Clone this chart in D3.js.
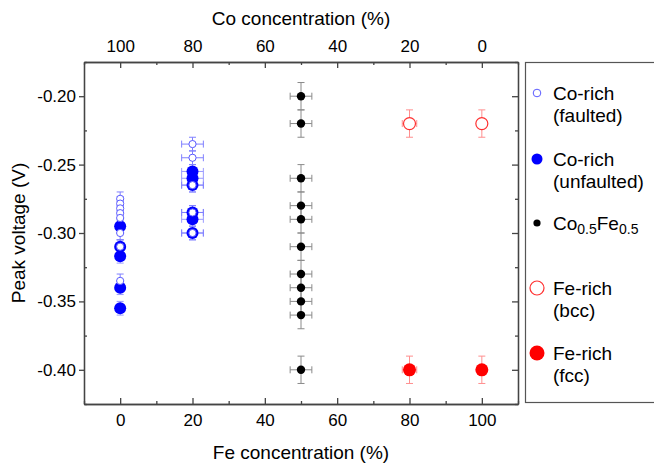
<!DOCTYPE html>
<html>
<head>
<meta charset="utf-8">
<script src="https://cdn.jsdelivr.net/npm/d3@7/dist/d3.min.js"></script>
<style>
body { margin: 0; background: #fff; }
text { font-family: "Liberation Sans", Arial, sans-serif; fill: #000; }
.axis path, .axis line { stroke: #444; stroke-width: 1.3px; }
</style>
</head>
<body>
<svg id="chart" width="654" height="468"></svg>
<script>
// peak voltage readings, [Fe %, V]
var coFaulted = [
	[0, -0.275], [0, -0.2785], [0, -0.282], [0, -0.2855], [0, -0.289],
	[0, -0.300], [0, -0.310], [0, -0.335],
	[20, -0.235], [20, -0.245], [20, -0.265], [20, -0.285], [20, -0.300]
];
var coUnfaulted = [
	[0, -0.295], [0, -0.310], [0, -0.317], [0, -0.340], [0, -0.355],
	[20, -0.255], [20, -0.260], [20, -0.265], [20, -0.285], [20, -0.290], [20, -0.300]
];
var coFe = [
	[50, -0.20], [50, -0.22], [50, -0.26], [50, -0.28], [50, -0.29], [50, -0.31],
	[50, -0.33], [50, -0.34], [50, -0.35], [50, -0.36], [50, -0.40]
];
var feBcc = [[80, -0.22], [100, -0.22]];
var feFcc = [[80, -0.40], [100, -0.40]];

// error bars, [x err, y err]; pure Co samples (0 % Fe) have no x error
var coFaultedErr = coFaulted.map(function(d) { return [d[0] == 0 ? 0 : 3, 0.005]; });
var coUnfaultedErr = coUnfaulted.map(function(d) { return [d[0] == 0 ? 0 : 3, 0.005]; });
var coFeErr = coFe.map(function() { return [3, 0.01]; });
var feBccErr = [[2, 0.01], [0, 0.01]];
var feFccErr = [[2, 0.01], [0, 0.01]];

var feTicks = [0, 20, 40, 60, 80, 100];
var coTicks = [100, 80, 60, 40, 20, 0];
var vTicks = [-0.40, -0.35, -0.30, -0.25, -0.20];

var svg = d3.select('#chart');
var plotLeft = 84, plotRight = 518, plotTop = 62, plotBottom = 404;

var x = d3.scaleLinear().domain([-10, 110]).range([plotLeft, plotRight]);
var xCo = d3.scaleLinear().domain([110, -10]).range([plotLeft, plotRight]);
var y = d3.scaleLinear().domain([-0.425, -0.175]).range([plotBottom, plotTop]);

var minorX = [-10, 10, 30, 50, 70, 90, 110];
var minorY = [-0.425, -0.375, -0.325, -0.275, -0.225, -0.175];

// axes
function addAxis(axis, tx, ty) {
	var g = svg.append('g').attr('class', 'axis')
		.attr('transform', 'translate(' + tx + ',' + ty + ')')
		.call(axis);
	g.selectAll('text').style('font-size', '17px').attr('fill', '#000');
	return g;
}

addAxis(d3.axisBottom(x).tickValues(feTicks).tickSize(-6).tickPadding(10).tickSizeOuter(0), 0, plotBottom);
addAxis(d3.axisBottom(x).tickValues(minorX).tickSize(-3).tickFormat('').tickSizeOuter(0), 0, plotBottom);
addAxis(d3.axisTop(xCo).tickValues(coTicks).tickSize(-6).tickPadding(10).tickSizeOuter(0), 0, plotTop);
addAxis(d3.axisTop(x).tickValues(minorX).tickSize(-3).tickFormat('').tickSizeOuter(0), 0, plotTop);
addAxis(d3.axisLeft(y).tickValues(vTicks).tickSize(5).tickPadding(3).tickSizeOuter(0)
	.tickFormat(function(d) { return d.toFixed(2); }), plotLeft, 0);
addAxis(d3.axisLeft(y).tickValues(minorY).tickSize(-3).tickFormat('').tickSizeOuter(0), plotLeft, 0);
addAxis(d3.axisRight(y).tickValues(vTicks).tickSize(-6).tickFormat('').tickSizeOuter(0), plotRight, 0);
addAxis(d3.axisRight(y).tickValues(minorY).tickSize(-3).tickFormat('').tickSizeOuter(0), plotRight, 0);

// axis titles
svg.append('text').attr('x', (x(0) + x(100)) / 2).attr('y', 459)
	.attr('text-anchor', 'middle').style('font-size', '19px').text('Fe concentration (%)');
svg.append('text').attr('x', (x(0) + x(100)) / 2).attr('y', 25)
	.attr('text-anchor', 'middle').style('font-size', '19px').text('Co concentration (%)');
svg.append('text').attr('transform', 'translate(25,' + ((plotTop + plotBottom) / 2) + ') rotate(-90)')
	.attr('text-anchor', 'middle').style('font-size', '19px').text('Peak voltage (V)');

// error bars
function drawErrors(data, errs, color) {
	var g = svg.append('g').attr('stroke', color).attr('stroke-width', 1).attr('fill', 'none');
	data.forEach(function(d, i) {
		var ex = errs[i][0], ey = errs[i][1];
		var cx = x(d[0]), cy = y(d[1]);
		var y0 = y(d[1] - ey), y1 = y(d[1] + ey);
		g.append('line').attr('x1', cx).attr('x2', cx).attr('y1', y0).attr('y2', y1);
		g.append('line').attr('x1', cx - 3.5).attr('x2', cx + 3.5).attr('y1', y0).attr('y2', y0);
		g.append('line').attr('x1', cx - 3.5).attr('x2', cx + 3.5).attr('y1', y1).attr('y2', y1);
		if (ex > 0) {
			var x0 = x(d[0] - ex), x1 = x(d[0] + ex);
			g.append('line').attr('x1', x0).attr('x2', x1).attr('y1', cy).attr('y2', cy);
			g.append('line').attr('x1', x0).attr('x2', x0).attr('y1', cy - 3.5).attr('y2', cy + 3.5);
			g.append('line').attr('x1', x1).attr('x2', x1).attr('y1', cy - 3.5).attr('y2', cy + 3.5);
		}
	});
}

drawErrors(coFe, coFeErr, '#8a8a8a');
drawErrors(feBcc, feBccErr, '#ff8f8f');
drawErrors(feFcc, feFccErr, '#ff8f8f');
drawErrors(coUnfaulted, coUnfaultedErr, '#9a9aff');
drawErrors(coFaulted, coFaultedErr, '#8080ff');

// markers
function drawPoints(data, r, fill, stroke, sw) {
	svg.append('g').selectAll('circle')
		.data(data)
		.enter()
			.append('circle')
			.attr('cx', function(d) { return x(d[0]); })
			.attr('cy', function(d) { return y(d[1]); })
			.attr('r', r)
			.attr('fill', fill)
			.attr('stroke', stroke)
			.attr('stroke-width', sw);
}

drawPoints(coFe, 4.2, '#000', 'none', 0);
drawPoints(feBcc, 6, '#fff', '#ff3030', 1.2);
drawPoints(feFcc, 6.5, '#ff0000', 'none', 0);
drawPoints(coUnfaulted, 6, '#0000ff', 'none', 0);
drawPoints(coFaulted, 3.6, '#fff', '#5a5aff', 1);

// legend
svg.append('rect').attr('x', 525.5).attr('y', 62.5).attr('width', 140).attr('height', 340)
	.attr('fill', 'none').attr('stroke', '#555').attr('stroke-width', 1.2);

var legendItems = [
	{ cy: 93, r: 3.8, fill: '#fff', stroke: '#5a5aff', sw: 1, lines: ['Co-rich', '(faulted)'] },
	{ cy: 159, r: 5.5, fill: '#0000ff', stroke: 'none', sw: 0, lines: ['Co-rich', '(unfaulted)'] },
	{ cy: 223, r: 3.6, fill: '#000', stroke: 'none', sw: 0, lines: null },
	{ cy: 288, r: 7, fill: '#fff', stroke: '#ff3030', sw: 1.2, lines: ['Fe-rich', '(bcc)'] },
	{ cy: 353, r: 7.5, fill: '#ff0000', stroke: 'none', sw: 0, lines: ['Fe-rich', '(fcc)'] }
];

legendItems.forEach(function(it) {
	svg.append('circle').attr('cx', 537).attr('cy', it.cy).attr('r', it.r)
		.attr('fill', it.fill).attr('stroke', it.stroke).attr('stroke-width', it.sw);
	if (it.lines) {
		svg.append('text').attr('x', 553).attr('y', it.cy + 6.5).style('font-size', '19px').text(it.lines[0]);
		svg.append('text').attr('x', 553).attr('y', it.cy + 29).style('font-size', '19px').text(it.lines[1]);
	} else {
		var t = svg.append('text').attr('x', 553).attr('y', it.cy + 6.5).style('font-size', '19px');
		t.append('tspan').text('Co');
		t.append('tspan').attr('dy', 4).style('font-size', '14px').text('0.5');
		t.append('tspan').attr('dy', -4).text('Fe');
		t.append('tspan').attr('dy', 4).style('font-size', '14px').text('0.5');
	}
});
</script>
</body>
</html>
